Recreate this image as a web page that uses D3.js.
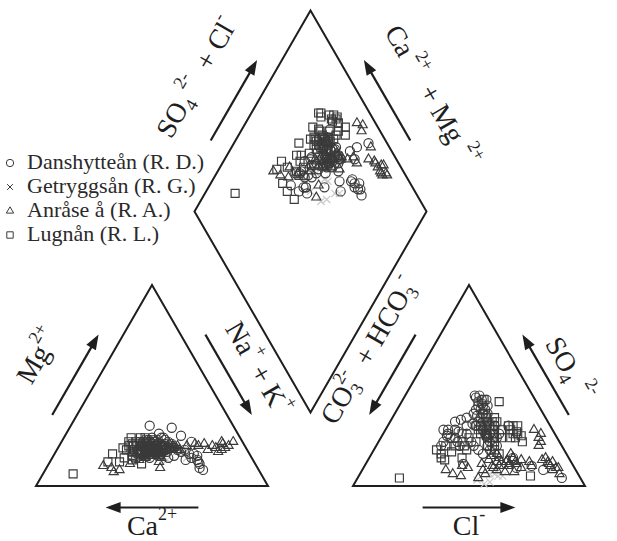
<!DOCTYPE html>
<html>
<head>
<meta charset="utf-8">
<script src="https://cdn.jsdelivr.net/npm/d3@7"></script>
<style>
  body { margin: 0; background: #fff; }
  svg { display: block; }
  text { font-family: "Liberation Serif", "Times New Roman", serif; white-space: pre; }
</style>
</head>
<body>
<svg id="chart" width="617" height="541"></svg>
<script>
// Each sample: [Mg2+, Na+ + K+, SO4 2-, Cl-] as % of total cations / anions (meq)
const danshyttean = [
  [9,66,43,34],[13,63,44,31],[15,62,41,35],[12,64,40,38],[14,60,45,30],[8,68,38,38],[11,65,36,40],
  [22,56,30,52],[25,50,26,50],[18,55,20,50],
  [30,34,28,25],[29,44,25,28],[26,40,22,28],[24,42,27,32],
  [18,40,42,33],[20,45,40,36],[16,38,38,34],[19,48,35,40],
  [17,36,28,27],[20,42,24,30],[15,46,30,38],[21,39,22,40],[18,52,26,46],[14,50,20,42],[23,44,31,36],
  [16,58,4,88],[17,54,8,78],[15,52,10,72],[20,49,9,66],
  [22,40,18,45],[17,43,16,48],[20,37,33,30],[19,47,34,32],[13,58,20,48],[16,60,14,62],[21,45,45,32],[24,38,43,36],
  [16,41,11,42],[18,35,20,28],
  [18,42,30,40],[20,44,28,42],[16,46,25,45],[22,38,32,38],[19,40,35,36],[17,48,22,48],[21,43,36,38],
  [15,45,26,44],[23,41,30,42],[18,47,32,40],[20,39,26,46],[16,44,38,36],[19,50,24,50],[22,46,34,38],
  [14,42,28,44],[21,48,30,46],[17,40,20,52],[24,43,36,34],[18,45,18,50],[20,41,40,34],
  [19,38,24,32],[21,40,28,30],[17,36,22,34],[20,42,26,28],[23,37,30,34],[16,39,20,36],[22,35,32,28],[18,43,26,36]
];
const getryggsan = [
  [15,45,3,52],[16,56,5,60],[14,48,6,58],[17,52,1,56],[13,50,8,57],[15,43,6,56],[18,54,2,58],[14,58,5,62]
];
const anrase = [
  [20,73,9,83],[21,70,12,78],[19,68,10,80],[18,71,8,82],[20,66,14,76],[22,74,6,86],[19,72,11,79],
  [21,62,13,75],[20,60,24,68],[18,65,20,70],[22,69,12,80],[17,70,9,84],
  [20,51,26,68],[18,52,22,70],[19,48,28,64],
  [17,45,12,60],[15,42,10,55],[19,48,11,65],[16,40,13,52],[18,50,9,68],[14,47,14,62],[20,55,10,72],
  [21,58,12,70],[16,44,8,58],[13,38,11,50],[18,53,13,66],[15,46,7,62],
  [9,28,6,40],[10,24,8,36],[8,32,5,44],[11,35,9,45],[9,49,4,52],[12,47,6,54],[7,30,10,42],
  [17,44,14,56],[19,46,12,58],[16,42,16,54],[18,48,10,60],[20,45,14,62],[15,43,12,56],
  [19,50,16,60],[17,41,10,58],[21,47,13,60],[16,45,15,52],[18,43,11,62],[20,49,12,64],
  [14,40,8,52],[16,46,10,62],[18,52,7,66],[15,39,9,56]
];
const lugnan = [
  [22,29,43,35],[20,36,42,42],[21,34,28,54],[19,37,30,52],[18,38,25,60],[22,40,27,57],[17,42,24,58],
  [20,44,30,56],[23,36,26,56],[18,46,22,62],[21,31,32,46],
  [19,42,20,48],[16,39,25,45],[22,37,28,40],[17,44,18,52],[20,35,22,42],[24,33,30,44],[15,40,16,55],
  [18,30,24,48],[14,36,20,38],
  [12,25,16,30],[14,31,14,31],[11,40,13,33],[13,35,18,27],[16,25,20,30],[24,29,17,34],
  [6,13,4,18],[12,30,5,74],
  [20,36,30,44],[18,38,28,46],[22,34,32,42],[19,40,26,48],[21,37,34,40],[17,35,24,46],[23,39,30,46],
  [16,37,28,42],[20,41,32,44],[18,33,26,44],[22,36,22,50],[19,38,34,44],[15,34,30,40],[21,42,28,50],
  [24,35,26,42],[17,39,36,38],[20,32,30,38],[18,40,24,52],
  [17,33,22,36],[20,30,18,40],[15,34,20,34],[19,28,24,38],[22,32,26,34],[16,36,14,40],
  [20,38,30,54],[19,40,26,58],[18,42,24,56]
];

const seriesNames = ["Danshytteån (R. D.)", "Getryggsån (R. G.)", "Anråse å (R. A.)", "Lugnån (R. L.)"];
const seriesSymbols = ["circle", "cross", "triangle", "square"];
const seriesData = [danshyttean, getryggsan, anrase, lugnan];
const drawOrder = [1, 0, 2, 3];

const svg = d3.select("#chart");
const INK = "#1e1e1e";
const MARK = "#3a3a3a";

// ---- Piper geometry ----
const SIDE = 232, SIN60 = Math.sqrt(3) / 2;
const pct = d3.scaleLinear().domain([0, 100]).range([0, SIDE]);
const A = [36, 486], B = [A[0] + SIDE, 486], C = [A[0] + SIDE / 2, 486 - SIDE * SIN60];
const D = [353, 486], E = [D[0] + SIDE, 486], F = [D[0] + SIDE / 2, 486 - SIDE * SIN60];
const half = (D[0] - B[0]) / 2;
const Bot = [B[0] + half, B[1] - half * Math.sqrt(3)];
const Lv = [Bot[0] - SIDE / 2, Bot[1] - SIDE * SIN60];
const Rv = [Bot[0] + SIDE / 2, Bot[1] - SIDE * SIN60];
const Tv = [Bot[0], Bot[1] - 2 * SIDE * SIN60];

const cationXY = s => [A[0] + pct(s[1]) + pct(s[0]) / 2, A[1] - pct(s[0]) * SIN60];
const anionXY = s => [D[0] + pct(s[3]) + pct(s[2]) / 2, D[1] - pct(s[2]) * SIN60];
const diamondXY = s => {
  const a = pct(100 - s[1]), b = pct(s[2] + s[3]);
  return [Bot[0] - a / 2 + b / 2, Bot[1] - (a + b) * SIN60];
};

// ---- frames ----
const line = d3.line();
[[A, B, C], [D, E, F], [Lv, Tv, Rv, Bot]].forEach(poly => {
  svg.append("path")
    .attr("d", line(poly) + "Z")
    .attr("fill", "none").attr("stroke", INK).attr("stroke-width", 2)
    .attr("stroke-linejoin", "miter");
});

// ---- markers ----
function markerPath(type, k) {
  if (type === "circle") return d3.symbol().type(d3.symbolCircle).size(66 * k * k)();
  if (type === "square") return d3.symbol().type(d3.symbolSquare).size(64 * k * k)();
  if (type === "triangle") return d3.symbol().type(d3.symbolTriangle).size(36 * k * k)();
  const r = 3.6 * k;
  return `M${-r},${-r}L${r},${r}M${-r},${r}L${r},${-r}`;
}

const plots = [cationXY, anionXY, diamondXY];
const gPts = svg.append("g");
drawOrder.forEach(si => {
  const type = seriesSymbols[si];
  const stroke = type === "cross" ? "#c9c9c9" : MARK;
  plots.forEach(fn => {
    gPts.append("g").selectAll("path")
      .data(seriesData[si])
      .join("path")
      .attr("d", markerPath(type, 1))
      .attr("transform", d => { const p = fn(d); return `translate(${p[0]},${p[1]})`; })
      .attr("fill", "none").attr("stroke", stroke).attr("stroke-width", 1.15);
  });
});

// ---- arrows ----
const nUL = [-SIN60, -0.5], nUR = [SIN60, -0.5], nDn = [0, 1];
function along(P0, P1, t, n, off) {
  return [P0[0] + (P1[0] - P0[0]) * t + n[0] * off, P0[1] + (P1[1] - P0[1]) * t + n[1] * off];
}
function arrow(P0, P1, n, t0, t1) {
  const s = along(P0, P1, t0, n, 21.5), e = along(P0, P1, t1, n, 21.5);
  const dx = e[0] - s[0], dy = e[1] - s[1], L = Math.hypot(dx, dy);
  const ux = dx / L, uy = dy / L, hl = 15, hw = 5.5;
  const b = [e[0] - ux * hl, e[1] - uy * hl];
  svg.append("line")
    .attr("x1", s[0]).attr("y1", s[1]).attr("x2", b[0] + ux * 2).attr("y2", b[1] + uy * 2)
    .attr("stroke", INK).attr("stroke-width", 2.2);
  svg.append("path")
    .attr("d", line([e, [b[0] - uy * hw, b[1] + ux * hw], [b[0] + uy * hw, b[1] - ux * hw]]) + "Z")
    .attr("fill", INK);
}
arrow(A, C, nUL, 0.3, 0.7);      // Mg
arrow(C, B, nUR, 0.3, 0.7);      // Na + K
arrow(A, B, nDn, 0.7, 0.3);      // Ca
arrow(D, F, nUL, 0.7, 0.3);      // CO3 + HCO3
arrow(F, E, nUR, 0.7, 0.3);      // SO4
arrow(D, E, nDn, 0.3, 0.7);      // Cl
arrow(Lv, Tv, nUL, 0.3, 0.7);    // SO4 + Cl
arrow(Tv, Rv, nUR, 0.7, 0.3);    // Ca + Mg

// ---- axis labels ----
const FS = 28, SFS = 18;
function label(P0, P1, n, f, d, segs) {
  const p = along(P0, P1, f, n, d);
  const ang = Math.atan2(P1[1] - P0[1], P1[0] - P0[0]) * 180 / Math.PI;
  const t = svg.append("text")
    .attr("transform", `translate(${p[0]},${p[1]}) rotate(${ang})`)
    .attr("text-anchor", "middle").attr("font-size", FS).attr("fill", INK);
  let shift = 0;
  segs.forEach(([kind, str, dx]) => {
    const target = kind === "sup" ? -15 : kind === "sub" ? 6 : 0;
    const ts = t.append("tspan").text(str)
      .attr("font-size", kind === "n" ? FS : SFS)
      .attr("dy", target - shift);
    if (dx) ts.attr("dx", dx);
    shift = target;
  });
}
label(A, C, nUL, 0.49, 54, [["n", "Mg"], ["sup", "2+"]]);
label(C, B, nUR, 0.54, 41, [["n", "Na"], ["sup", "+"], ["n", " + K"], ["sup", "+"]]);
label(A, B, nDn, 0.50, 49, [["n", "Ca"], ["sup", "2+"]]);
label(D, F, nUL, 0.54, 45, [["n", "CO"], ["sub", "3"], ["sup", "2-", -9], ["n", "  + HCO"], ["sub", "3"], ["sup", "-"]]);
label(F, E, nUR, 0.53, 36, [["n", "SO"], ["sub", "4"], ["sup", "  2-"]]);
label(D, E, nDn, 0.50, 49, [["n", "Cl"], ["sup", "-"]]);
label(Lv, Tv, nUL, 0.505, 56, [["n", "SO"], ["sub", "4"], ["sup", " 2-"], ["n", "  + Cl"], ["sup", "-"]]);
label(Tv, Rv, nUR, 0.58, 53, [["n", "Ca"], ["sup", " 2+"], ["n", "  + Mg"], ["sup", "  2+"]]);

// ---- legend ----
const legend = svg.append("g");
seriesNames.forEach((name, i) => {
  const y = 169 + i * 24;
  legend.append("path")
    .attr("d", markerPath(seriesSymbols[i], 0.8))
    .attr("transform", `translate(10,${y - 6})`)
    .attr("fill", "none").attr("stroke", MARK).attr("stroke-width", 1);
  legend.append("text")
    .attr("x", 27).attr("y", y)
    .attr("font-size", 22).attr("fill", "#2a2a2a")
    .text(name);
});
</script>
</body>
</html>
